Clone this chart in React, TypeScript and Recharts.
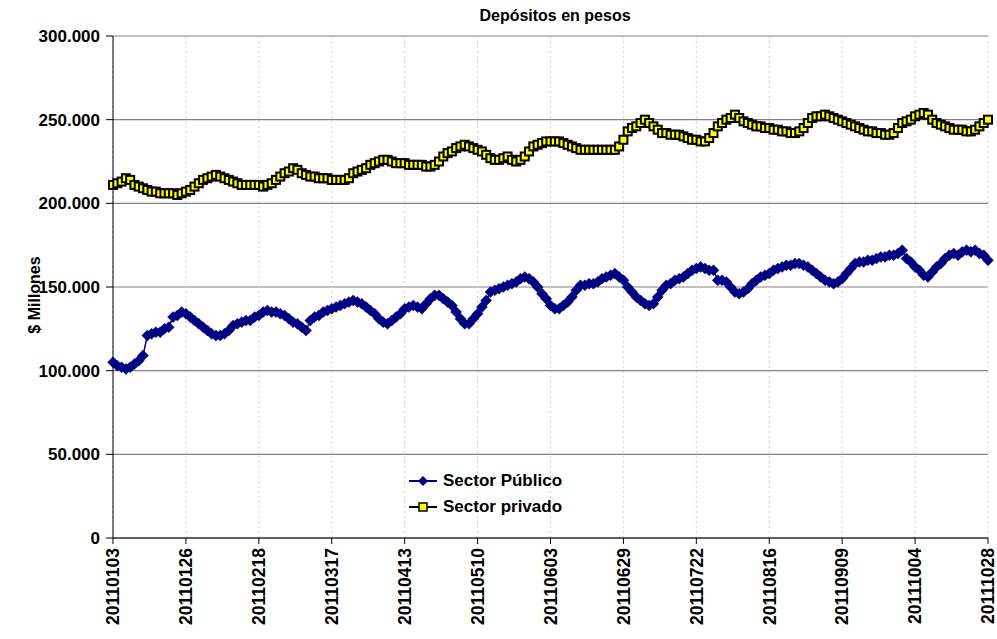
import React from 'react';
import { LineChart, Line, XAxis, YAxis, CartesianGrid, Legend } from 'recharts';

// valores en miles de millones de $ (el eje muestra 250.000 = 250 mil millones)
// una fila por tramo entre etiquetas del eje X (17 ruedas por tramo)
const sectorPublico = [
  105, 103, 102, 101, 102, 104, 106, 109, 121, 122, 123, 123, 125, 126, 132, 133, 135,
  134, 132, 130, 128, 126, 124, 122, 121, 121, 122, 124, 127, 128, 129, 130, 130, 132,
  133, 135, 136, 135, 135, 134, 133, 131, 129, 128, 126, 124, 130, 132, 133, 135, 136,
  137, 138, 139, 140, 141, 142, 141, 140, 138, 136, 134, 131, 129, 128, 130, 132, 134,
  137, 138, 139, 138, 137, 140, 143, 145, 145, 143, 141, 139, 135, 131, 128, 128, 131,
  134, 138, 142, 147, 148, 149, 150, 151, 152, 153, 155, 156, 155, 153, 150, 146, 143,
  139, 137, 137, 139, 141, 144, 148, 151, 151, 152, 152, 153, 155, 156, 157, 158, 156,
  154, 150, 147, 144, 142, 140, 139, 140, 144, 148, 151, 152, 154, 155, 156, 158, 160,
  161, 162, 161, 160, 160, 154, 154, 153, 150, 147, 146, 147, 149, 152, 154, 156, 157,
  158, 160, 161, 162, 163, 163, 164, 164, 163, 162, 160, 158, 156, 154, 153, 152, 153,
  155, 158, 161, 164, 165, 165, 166, 166, 167, 168, 168, 169, 169, 170, 172, 167, 165,
  162, 160, 157, 156, 159, 162, 164, 167, 169, 170, 169, 171, 172, 171, 172, 170, 169,
  166,
];

const sectorPrivado = [
  211, 212, 213, 215, 214, 211, 210, 209, 208, 207, 207, 206, 206, 206, 206, 205, 206,
  207, 208, 210, 212, 214, 215, 216, 217, 216, 215, 214, 213, 212, 211, 211, 211, 211,
  211, 210, 211, 212, 214, 216, 218, 219, 221, 220, 218, 217, 216, 216, 215, 215, 215,
  214, 214, 214, 214, 215, 218, 219, 220, 221, 223, 224, 225, 226, 226, 225, 224, 224,
  224, 223, 223, 223, 223, 222, 222, 223, 225, 228, 230, 231, 233, 234, 235, 234, 233,
  232, 231, 229, 227, 226, 226, 227, 228, 226, 225, 226, 228, 231, 234, 235, 236, 237,
  237, 237, 237, 236, 235, 234, 233, 232, 232, 232, 232, 232, 232, 232, 232, 232, 234,
  238, 243, 245, 246, 248, 250, 248, 246, 244, 242, 242, 241, 241, 241, 240, 239, 238,
  238, 237, 237, 239, 242, 246, 248, 250, 251, 253, 251, 249, 248, 247, 246, 246, 245,
  245, 244, 244, 243, 243, 242, 242, 243, 245, 248, 251, 252, 252, 253, 252, 251, 250,
  249, 248, 247, 246, 245, 244, 243, 243, 242, 242, 241, 241, 242, 245, 248, 249, 250,
  252, 253, 254, 253, 250, 248, 247, 246, 245, 244, 244, 244, 243, 243, 244, 246, 248,
  250,
];

const fechas = [
  '20110103', '20110126', '20110218', '20110317', '20110413', '20110510', '20110603',
  '20110629', '20110722', '20110816', '20110909', '20111004', '20111028',
];
const paso = 17;
const yTicks = [0, 50, 100, 150, 200, 250, 300];

const rows = sectorPublico.map((v, i) => ({ idx: i, publico: v, privado: sectorPrivado[i] }));
const xTicks = fechas.map((_, i) => i * paso);

const FONT = '"Liberation Sans", Arial, Helvetica, sans-serif';
const NAVY = '#000080';

const fmtMiles = (v: number) => (v === 0 ? '0' : `${v}.000`);

const Diamond = (props: any) => {
  const { cx, cy, index } = props;
  if (cx == null || cy == null) return <g key={index} />;
  const r = 5.5;
  return (
    <path
      key={index}
      d={`M${cx},${cy - r}L${cx + r},${cy}L${cx},${cy + r}L${cx - r},${cy}Z`}
      fill={NAVY}
      stroke={NAVY}
      strokeWidth={0.5}
    />
  );
};

const Square = (props: any) => {
  const { cx, cy, index } = props;
  if (cx == null || cy == null) return <g key={index} />;
  return <rect key={index} x={cx - 4} y={cy - 4} width={8} height={8} fill="#ffff00" stroke="#000" strokeWidth={2} />;
};

const XTick = (props: any) => {
  const { x, y, payload } = props;
  const label = fechas[Math.round(payload.value / paso)];
  return (
    <text
      x={x}
      y={y}
      dy="0.36em"
      transform={`rotate(-90, ${x}, ${y})`}
      textAnchor="end"
      fontFamily={FONT}
      fontWeight="bold"
      fontSize={17.5}
      fill="#000"
    >
      {label}
    </text>
  );
};

const series = [
  { name: 'Sector Público', color: NAVY, marker: 'diamond' },
  { name: 'Sector privado', color: '#000', marker: 'square' },
];

const LegendBox = () => (
  <div style={{ fontFamily: FONT, fontWeight: 'bold', fontSize: 17, color: '#000' }}>
    {series.map((s) => (
      <div key={s.name} style={{ display: 'flex', alignItems: 'center', height: 26 }}>
        <svg width={28} height={14} style={{ marginRight: 6 }}>
          <line x1={0} y1={7} x2={28} y2={7} stroke={s.color} strokeWidth={2} />
          {s.marker === 'diamond' ? (
            <path d="M14,2L19,7L14,12L9,7Z" fill={NAVY} />
          ) : (
            <rect x={10} y={3} width={8} height={8} fill="#ffff00" stroke="#000" strokeWidth={1.5} />
          )}
        </svg>
        <span>{s.name}</span>
      </div>
    ))}
  </div>
);

export default function App() {
  return (
    <div style={{ position: 'absolute', left: 0, top: 0, width: 997, height: 639, background: '#fff', fontFamily: FONT }}>
      <div
        style={{
          position: 'absolute', left: 555, top: 7, transform: 'translateX(-50%)',
          fontWeight: 'bold', fontSize: 16, whiteSpace: 'nowrap', color: '#000',
        }}
      >
        Depósitos en pesos
      </div>
      <div
        style={{
          position: 'absolute', left: 35, top: 295, transform: 'translate(-50%, -50%) rotate(-90deg)',
          fontWeight: 'bold', fontSize: 16, whiteSpace: 'nowrap', color: '#000',
        }}
      >
        $ Millones
      </div>
      <LineChart width={997} height={639} data={rows} margin={{ top: 36, right: 9, bottom: 0, left: 0 }}>
        <CartesianGrid horizontal vertical={false} stroke="#808080" strokeWidth={1.2} />
        <CartesianGrid horizontal={false} vertical stroke="#cfcfcf" strokeDasharray="2 3" />
        <XAxis
          dataKey="idx"
          type="number"
          domain={[0, rows.length - 1]}
          ticks={xTicks}
          interval={0}
          height={101}
          tickSize={6}
          tickMargin={4}
          tick={<XTick />}
          axisLine={{ stroke: '#000' }}
          tickLine={{ stroke: '#000' }}
        />
        <YAxis
          width={113}
          domain={[0, 300]}
          ticks={yTicks}
          interval={0}
          tickFormatter={fmtMiles}
          tickSize={7}
          tickMargin={6}
          axisLine={{ stroke: '#000' }}
          tickLine={{ stroke: '#000' }}
          tick={{ fill: '#000', fontFamily: FONT, fontWeight: 'bold', fontSize: 17 }}
        />
        <Legend
          layout="vertical"
          align="center"
          verticalAlign="middle"
          content={<LegendBox />}
          wrapperStyle={{ left: 409, top: 468, width: 200 }}
        />
        <Line
          dataKey="publico"
          name="Sector Público"
          stroke={NAVY}
          strokeWidth={1.5}
          dot={Diamond}
          activeDot={false}
          isAnimationActive={false}
        />
        <Line
          dataKey="privado"
          name="Sector privado"
          stroke="#000"
          strokeWidth={1.5}
          dot={Square}
          activeDot={false}
          isAnimationActive={false}
        />
      </LineChart>
    </div>
  );
}
